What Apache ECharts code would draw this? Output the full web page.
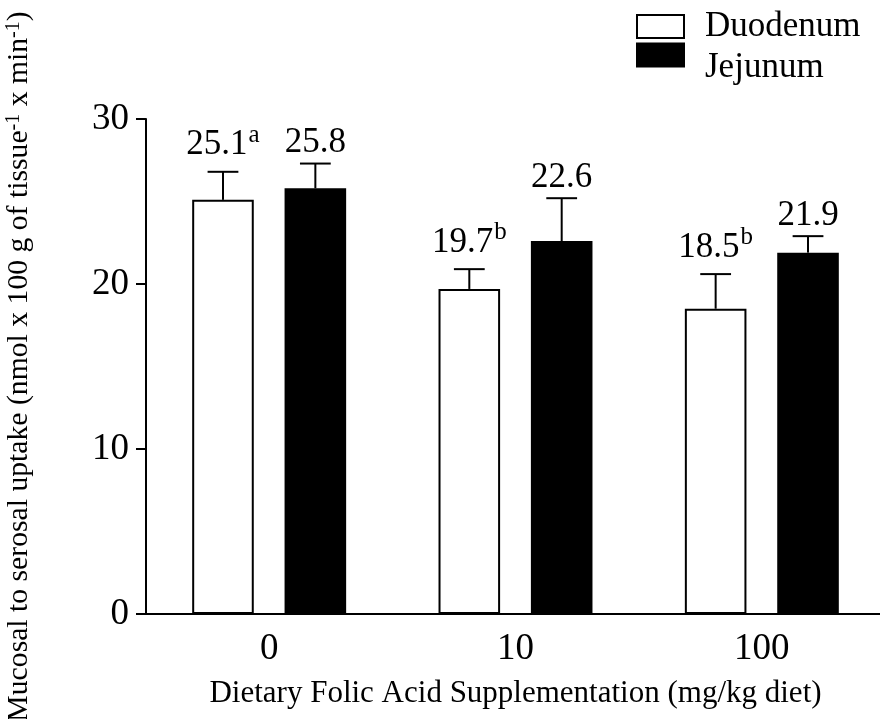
<!DOCTYPE html>
<html>
<head>
<meta charset="utf-8">
<script src="https://cdn.jsdelivr.net/npm/echarts@6/dist/echarts.min.js"></script>
<style>
  html, body { margin: 0; padding: 0; background: #fff; }
  #chart { width: 880px; height: 719px; }
</style>
</head>
<body>
<div id="chart"></div>
<script>
// Folic acid supplementation groups (mg/kg diet)
const categories = ['0', '10', '100'];

// Mean mucosal-to-serosal uptake per segment
const duodenumMean = [25.1, 19.7, 18.5];
const jejunumMean  = [25.8, 22.6, 21.9];

// Standard errors (upper whiskers)
const duodenumSE = [1.7, 1.2, 2.1];
const jejunumSE  = [1.5, 2.6, 1.0];

// Significance letters shown next to the mean labels
const duodenumSig = ['a', 'b', 'b'];
const jejunumSig  = ['', '', ''];

const yTicks = [0, 10, 20, 30];

const FONT = "'Liberation Serif', 'Times New Roman', serif";
const BAR_W = 0.25;    // bar width as share of the category band
const BAR_GAP = 0.5;   // gap between the two bars, relative to bar width
const centerShift = BAR_W * (1 + BAR_GAP) / 2;

function errorSeries(name, means, ses, sigs, side, labelGap) {
  const data = means.map((m, i) => [i, m, ses[i], m.toFixed(1), sigs[i]]);
  return {
    type: 'custom',
    name: name + ' SE',
    z: 5,
    silent: true,
    data: data,
    encode: { x: 0, y: 1 },
    renderItem: function (params, api) {
      const idx = api.value(0);
      const mean = api.value(1);
      const se = api.value(2);
      const band = api.size([1, 0])[0];
      const c = api.coord([idx, mean]);
      const t = api.coord([idx, mean + se]);
      const x = c[0] + side * band * centerShift;
      const capHalf = band * BAR_W / 4;
      const d = data[params.dataIndex];
      const txt = '{v|' + d[3] + '}' + (d[4] ? '{s|' + d[4] + '}' : '');
      return {
        type: 'group',
        children: [
          { type: 'line', shape: { x1: x, y1: c[1], x2: x, y2: t[1] },
            style: { stroke: '#000', lineWidth: 2 } },
          { type: 'line', shape: { x1: x - capHalf, y1: t[1], x2: x + capHalf, y2: t[1] },
            style: { stroke: '#000', lineWidth: 2 } },
          { type: 'text',
            style: {
              text: txt, x: x, y: t[1] - labelGap,
              align: 'center', verticalAlign: 'bottom',
              fill: '#000',
              rich: {
                v: { fontFamily: FONT, fontSize: 35, lineHeight: 40, fill: '#000', verticalAlign: 'bottom' },
                s: { fontFamily: FONT, fontSize: 25, lineHeight: 25, fill: '#000', verticalAlign: 'top', padding: [0, 0, 0, 1] }
              }
            } }
        ]
      };
    }
  };
}

const legendBase = {
  orient: 'vertical',
  left: 631,
  itemWidth: 47,
  itemHeight: 23,
  selectedMode: false,
  icon: 'rect'
};

const chart = echarts.init(document.getElementById('chart'), null, { renderer: 'canvas' });

chart.setOption({
  animation: false,
  backgroundColor: '#fff',
  textStyle: { fontFamily: FONT, color: '#000' },
  grid: {
    left: 146, width: 739, top: 119, bottom: 105,
    containLabel: false, outerBoundsMode: 'none'
  },
  legend: [
    Object.assign({}, legendBase, {
      top: 4,
      textStyle: { fontFamily: FONT, fontSize: 35, color: '#000', lineHeight: 23, padding: [0, 0, 0, 16] },
      data: ['Duodenum']
    }),
    // second entry: label sits lower than its swatch
    Object.assign({}, legendBase, {
      top: 20,
      formatter: '\n{name}',
      textStyle: { fontFamily: FONT, fontSize: 35, color: '#000', lineHeight: 25, padding: [0, 0, 0, 16] },
      data: ['Jejunum']
    })
  ],
  xAxis: {
    type: 'category',
    data: categories,
    name: 'Dietary Folic Acid Supplementation (mg/kg diet)',
    nameLocation: 'middle',
    nameGap: 64,
    nameTextStyle: { fontFamily: FONT, fontSize: 31, color: '#000' },
    axisLine: { lineStyle: { color: '#000', width: 2 } },
    axisTick: { alignWithLabel: true, length: 10, lineStyle: { color: '#000', width: 2 } },
    axisLabel: { fontFamily: FONT, fontSize: 37, color: '#000', margin: 17 },
    splitLine: { show: false }
  },
  yAxis: {
    type: 'value',
    min: yTicks[0],
    max: yTicks[yTicks.length - 1],
    interval: 10,
    name: 'Mucosal to serosal uptake (nmol x 100 g of tissue{sup|-1} x min{sup|-1})',
    nameLocation: 'middle',
    nameGap: 112,
    nameRotate: 90,
    nameTextStyle: {
      fontFamily: FONT, fontSize: 29.7, color: '#000',
      rich: {
        sup: { fontFamily: FONT, fontSize: 20, color: '#000', verticalAlign: 'top' }
      }
    },
    axisLine: { show: true, lineStyle: { color: '#000', width: 2 } },
    axisTick: { show: true, length: 10, lineStyle: { color: '#000', width: 2 } },
    axisLabel: { fontFamily: FONT, fontSize: 37, color: '#000', margin: 17 },
    splitLine: { show: false }
  },
  series: [
    {
      name: 'Duodenum',
      type: 'bar',
      data: duodenumMean,
      barWidth: (BAR_W * 100) + '%',
      barGap: (BAR_GAP * 100) + '%',
      itemStyle: { color: '#fff', borderColor: '#000', borderWidth: 2 }
    },
    {
      name: 'Jejunum',
      type: 'bar',
      data: jejunumMean,
      barWidth: (BAR_W * 100) + '%',
      barGap: (BAR_GAP * 100) + '%',
      itemStyle: { color: '#000', borderColor: '#000', borderWidth: 2 }
    },
    errorSeries('Duodenum', duodenumMean, duodenumSE, duodenumSig, -1, 9),
    errorSeries('Jejunum', jejunumMean, jejunumSE, jejunumSig, 1, 3)
  ]
});
</script>
</body>
</html>
